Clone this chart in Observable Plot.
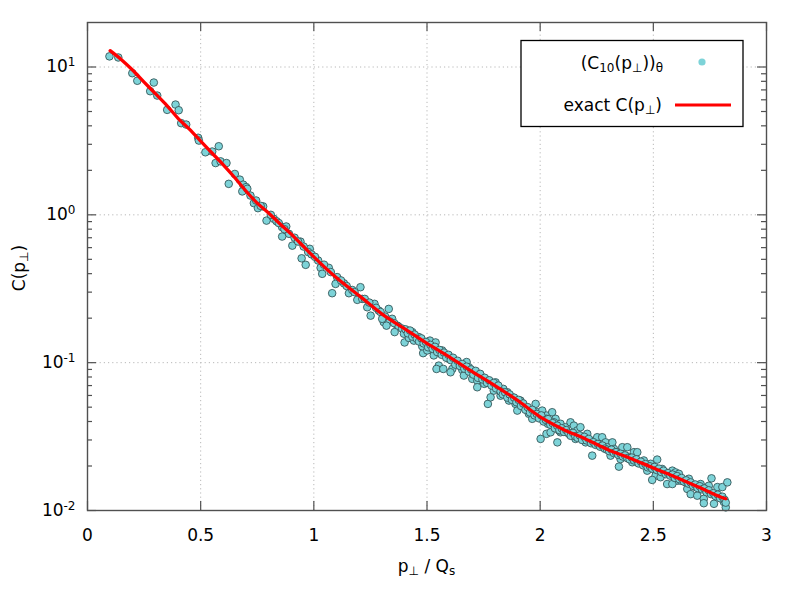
<!DOCTYPE html>
<html><head><meta charset="utf-8">
<script src="https://cdn.jsdelivr.net/npm/d3@7"></script>
<script src="https://cdn.jsdelivr.net/npm/@observablehq/plot@0.6"></script>
<style>body{margin:0;background:#fff} svg{font-family:"DejaVu Sans",sans-serif}</style>
</head><body><div id="chart"></div><script>
// exact C(p_perp) curve
const curveX = [0.1,0.15,0.2,0.25,0.3,0.35,0.4,0.45,0.5,0.55,0.6,0.65,0.7,0.75,0.8,0.85,0.9,0.95,1.0,1.1,1.2,1.3,1.4,1.5,1.6,1.7,1.8,1.9,2.0,2.1,2.2,2.3,2.4,2.5,2.6,2.7,2.8,2.82];
const curveY = [12.9,11.2,9.5,7.9,6.6,5.5,4.5,3.8,3.15,2.62,2.18,1.79,1.45,1.2,1.03,0.87,0.74,0.62,0.52,0.375,0.284,0.214,0.17,0.135,0.109,0.087,0.070,0.0555,0.043,0.0355,0.0305,0.0258,0.0225,0.0194,0.0168,0.0144,0.0123,0.0120];

// (C10(p_perp))_theta samples
const samplePts = [
[0.097,11.8],[0.136,11.6],[0.198,9.08],[0.220,8.07],[0.293,7.85],[0.277,6.86],[0.308,6.41],[0.389,5.57],[0.403,5.10],[0.352,5.13],[0.414,4.17],[0.436,4.08],[0.489,3.32],[0.492,3.18],[0.551,2.68],[0.580,2.91],[0.521,2.65],[0.566,2.24],[0.588,2.30],[0.614,2.24],[0.651,1.89],[0.624,1.62],[0.673,1.73],[0.688,1.60],[0.701,1.54],[0.684,1.44],[0.706,1.50],
[0.735,1.20],[0.753,1.11],[0.776,1.14],[0.791,0.914],[0.823,0.94],[0.835,0.905],[0.860,0.825],[0.878,0.834],[0.890,0.744],[0.860,0.713],[0.905,0.619],[0.941,0.659],[0.982,0.589],[0.946,0.508],[0.964,0.459],[1.019,0.491],[1.030,0.438],[1.037,0.399],[1.066,0.438],[1.081,0.295],[1.103,0.379],[1.096,0.341],[1.133,0.344],[1.155,0.295],[1.206,0.324],[1.192,0.266],[1.214,0.270],[1.236,0.237],[1.268,0.250],[1.251,0.208],[1.287,0.225],[1.331,0.231],[1.346,0.198],[1.309,0.188],[1.369,0.178],
[0.72,1.35],[0.745,1.25],[0.765,1.15],[0.81,1.0],[0.845,0.88],[0.87,0.8],[0.915,0.7],[0.93,0.66],[0.955,0.61],[0.975,0.56],[0.99,0.54],
[1.005,0.52],[1.045,0.46],[1.075,0.41],[1.12,0.36],[1.145,0.33],[1.17,0.31],[1.18,0.30],[1.225,0.27],[1.245,0.255],[1.275,0.235],[1.295,0.22],[1.315,0.205],[1.335,0.19],[1.355,0.185],[1.375,0.175],[1.39,0.17],
[1.302,0.198],[1.321,0.178],[1.357,0.161],[1.398,0.157],[1.401,0.137],[1.435,0.161],[1.420,0.147],[1.464,0.149],[1.442,0.141],[1.483,0.116],[1.479,0.129],[1.513,0.141],[1.508,0.131],[1.538,0.137],[1.530,0.112],[1.501,0.121],[1.567,0.121],[1.552,0.0955],[1.542,0.0907],[1.572,0.0907],[1.597,0.106],[1.612,0.0907],[1.631,0.101],[1.604,0.0861],[1.675,0.101],[1.656,0.0893],[1.663,0.0818],[1.685,0.0931],[1.710,0.0861],[1.700,0.0777],[1.722,0.0756],[1.737,0.0818],[1.722,0.0682],[1.753,0.0719],[1.766,0.0756],[1.769,0.0526],[1.803,0.0736],[1.795,0.0647],[1.781,0.0583],[1.825,0.0598],[1.837,0.0665],[1.855,0.0631],[1.862,0.0554],[1.877,0.0583],[1.891,0.0526],[1.899,0.0474],[1.913,0.0554],[1.928,0.0499],[1.950,0.0451],[1.980,0.0526],[1.965,0.0417],[1.987,0.0462],[2.009,0.0474],[2.028,0.0439],[2.053,0.0462],[2.038,0.0395],[2.068,0.0417],[2.090,0.0375],[2.002,0.0305],[2.028,0.033],[2.046,0.0338],[2.076,0.0289],[2.090,0.0338],
[2.028,0.0417],[2.034,0.0386],[2.061,0.0395],[2.090,0.0386],[2.083,0.0348],[2.112,0.0366],[2.134,0.0395],[2.149,0.0375],[2.127,0.033],[2.164,0.0348],[2.178,0.0366],[2.156,0.0305],[2.186,0.0313],[2.208,0.033],[2.201,0.0289],[2.230,0.0235],[2.223,0.0297],[2.252,0.0313],[2.274,0.0313],[2.259,0.0275],[2.289,0.0289],[2.297,0.0268],[2.319,0.0289],[2.326,0.0261],[2.311,0.0235],[2.348,0.0248],[2.363,0.0268],[2.385,0.0268],[2.355,0.0223],[2.348,0.0198],[2.377,0.0235],[2.392,0.0229],[2.414,0.0248],[2.429,0.0248],[2.407,0.0212],[2.436,0.0212],[2.458,0.0218],[2.488,0.0207],[2.473,0.0186],[2.502,0.0191],[2.517,0.0221],[2.510,0.0172],[2.495,0.0161],[2.539,0.0191],[2.554,0.0181],[2.532,0.0168],[2.561,0.0151],[2.584,0.0186],[2.598,0.0181],[2.613,0.0177],[2.606,0.0159],[2.584,0.0151],[2.621,0.0159],[2.643,0.0155],[2.657,0.0164],[2.650,0.0140],[2.665,0.0129],[2.687,0.0144],[2.709,0.0151],[2.694,0.0126],[2.723,0.0120],[2.738,0.0136],[2.757,0.0165],[2.745,0.0147],[2.768,0.0129],[2.783,0.0144],[2.805,0.0144],[2.827,0.0155],[2.797,0.0123],[2.768,0.0111],[2.812,0.0114],[2.820,0.0105],[2.723,0.0112],
[1.405,0.168],[1.415,0.158],[1.425,0.165],[1.435,0.150],[1.445,0.155],[1.455,0.145],[1.465,0.139],[1.475,0.146],[1.485,0.135],[1.495,0.138],
[1.505,0.127],[1.515,0.132],[1.525,0.124],[1.535,0.128],[1.545,0.118],[1.555,0.122],[1.565,0.113],[1.575,0.117],[1.585,0.108],[1.595,0.113],
[1.605,0.104],[1.615,0.108],[1.625,0.097],[1.635,0.103],[1.645,0.095],[1.655,0.098],[1.665,0.091],[1.675,0.094],[1.685,0.087],[1.695,0.09],
[1.705,0.083],[1.715,0.088],[1.725,0.079],[1.735,0.084],[1.745,0.077],[1.755,0.079],[1.765,0.073],[1.775,0.076],[1.785,0.07],[1.795,0.073],
[1.805,0.067],[1.815,0.07],[1.825,0.064],[1.835,0.061],[1.845,0.063],[1.855,0.058],[1.865,0.061],[1.875,0.056],[1.885,0.058],[1.895,0.054],
[1.905,0.056],[1.915,0.051],[1.925,0.053],[1.935,0.048],[1.945,0.05],[1.955,0.046],[1.965,0.048],[1.975,0.044],[1.985,0.045],[1.995,0.042],
[2.005,0.044],[2.015,0.040],[2.025,0.041],[2.035,0.0415],[2.045,0.038],[2.055,0.039],[2.065,0.036],[2.075,0.0375],[2.085,0.035],[2.095,0.036],
[2.105,0.034],[2.115,0.035],[2.125,0.0335],[2.135,0.032],[2.145,0.0335],[2.155,0.0318],[2.165,0.031],[2.175,0.0322],[2.185,0.030],[2.195,0.0315],
[2.205,0.0298],[2.215,0.0305],[2.225,0.0285],[2.235,0.029],[2.245,0.0278],[2.255,0.0282],[2.265,0.027],[2.275,0.0275],[2.285,0.0262],[2.295,0.0258],
[2.305,0.0252],[2.315,0.0258],[2.325,0.0245],[2.335,0.0248],[2.345,0.0238],[2.355,0.0242],[2.365,0.0232],[2.375,0.0236],[2.385,0.0226],[2.395,0.0222],
[2.405,0.0228],[2.415,0.0218],[2.425,0.0222],[2.435,0.0208],[2.445,0.0214],[2.455,0.0202],[2.465,0.0206],[2.475,0.0196],[2.485,0.0199],[2.495,0.0192],
[2.505,0.0197],[2.515,0.0188],[2.525,0.0192],[2.535,0.0182],[2.545,0.0186],[2.555,0.0176],[2.565,0.0179],[2.575,0.0172],[2.585,0.0175],[2.595,0.0166],
[2.605,0.0171],[2.615,0.0163],[2.625,0.0166],[2.635,0.0157],[2.645,0.016],[2.655,0.0152],[2.665,0.0155],[2.675,0.0147],[2.685,0.015],[2.695,0.0142],
[2.705,0.0146],[2.715,0.0139],[2.725,0.0141],[2.735,0.0133],[2.745,0.0137],[2.755,0.0129],[2.765,0.0131],[2.775,0.0125],[2.785,0.0128],[2.795,0.0121],[2.805,0.0124],[2.815,0.0118],[2.82,0.0113]
];

const xTicks = [0, 0.5, 1, 1.5, 2, 2.5, 3];
const xGrid = [0.5, 1, 1.5, 2, 2.5];
const yTicks = [0.01, 0.1, 1, 10];
const yExp = ["-2", "-1", "0", "1"];
const yGrid = [0.1, 1, 10];
const yMinor = [0.02,0.03,0.04,0.05,0.06,0.07,0.08,0.09,0.2,0.3,0.4,0.5,0.6,0.7,0.8,0.9,2,3,4,5,6,7,8,9];
const legendSeries = ["(C10(p⊥))θ", "exact C(p⊥)"];

const W = 800, H = 600, mL = 87, mR = 34, mT = 22, mB = 90;
const fW = W - mL - mR, fH = H - mT - mB;
const axisColor = "#505050";
const dotFill = "#7dd3d8";

const curve = curveX.map((x, i) => ({x, y: curveY[i]}));
const samples = samplePts.map(([x, y]) => ({x, y}));

const plot = Plot.plot({
  width: W, height: H,
  marginLeft: mL, marginRight: mR, marginTop: mT, marginBottom: mB,
  style: {fontFamily: "DejaVu Sans, sans-serif", fontSize: "17px", background: "white", color: "#000"},
  x: {domain: [0, 3]},
  y: {type: "log", domain: [0.01, 20]},
  marks: [
    Plot.ruleX(xGrid, {x: d => d, stroke: "#b8b8b8", strokeWidth: 1, strokeDasharray: "1.2,3"}),
    Plot.ruleY(yGrid, {y: d => d, stroke: "#b8b8b8", strokeWidth: 1, strokeDasharray: "1.2,3"}),
    Plot.dot(samples, {x: "x", y: "y", r: 3.8, fill: dotFill, stroke: "#37585a", strokeWidth: 0.9}),
    Plot.line(curve, {x: "x", y: "y", stroke: "#ff0000", strokeWidth: 3.3, curve: "monotone-x"}),
    // inward ticks
    Plot.tickX(xTicks, {x: d => d, insetTop: fH - 9, stroke: axisColor, strokeWidth: 1.2}),
    Plot.tickX(xTicks, {x: d => d, insetBottom: fH - 9, stroke: axisColor, strokeWidth: 1.2}),
    Plot.tickY(yTicks, {y: d => d, insetRight: fW - 9, stroke: axisColor, strokeWidth: 1.2}),
    Plot.tickY(yTicks, {y: d => d, insetLeft: fW - 9, stroke: axisColor, strokeWidth: 1.2}),
    Plot.tickY(yMinor, {y: d => d, insetRight: fW - 5, stroke: axisColor, strokeWidth: 1.2}),
    Plot.tickY(yMinor, {y: d => d, insetLeft: fW - 5, stroke: axisColor, strokeWidth: 1.2}),
    Plot.frame({stroke: axisColor, strokeWidth: 1.4}),
    Plot.axisX({ticks: xTicks, tickSize: 0, tickPadding: 18, tickFormat: d => String(d), fontSize: 17, label: null}),
    Plot.axisY({ticks: yTicks, tickSize: 0, tickPadding: 12, tickFormat: d => yExp[yTicks.indexOf(d)], fontSize: 17, label: null})
  ]
});

document.getElementById("chart").appendChild(plot);
const svg = d3.select(plot);

// superscript exponents on y tick labels
svg.selectAll('g[aria-label="y-axis tick label"] text').each(function() {
  const e = this.textContent;
  const t = d3.select(this);
  t.text("10");
  t.append("tspan").attr("dy", "-0.5em").attr("font-size", "12px").text(e);
});

const fx = plot.scale("x"), fy = plot.scale("y");
const frameLeft = fx.range[0], frameRight = fx.range[1];
const frameTop = fy.range[1], frameBottom = fy.range[0];

// helper to write text with subscripts: parts = [[text, isSub], ...]
function richText(g, parts) {
  let sub = false;
  for (const [s, isSub] of parts) {
    const ts = g.append("tspan").text(s);
    if (isSub && !sub) ts.attr("dy", 3);
    if (!isSub && sub) ts.attr("dy", -3);
    if (isSub) ts.attr("font-size", "12px");
    sub = isSub;
  }
}

// axis labels
const xl = svg.append("text").attr("x", (frameLeft + frameRight) / 2).attr("y", frameBottom + 62)
  .attr("text-anchor", "middle").attr("font-size", 17).attr("fill", "#000");
richText(xl, [["p", false], ["⊥", true], [" / Q", false], ["s", true]]);

const yl = svg.append("text").attr("transform", `translate(24.5,${(frameTop + frameBottom) / 2 + 2}) rotate(-90)`)
  .attr("text-anchor", "middle").attr("font-size", 17).attr("fill", "#000");
richText(yl, [["C(p", false], ["⊥", true], [")", false]]);

// legend
const lg = svg.append("g");
const bx = frameRight - 245, by = frameTop + 18.5;
lg.append("rect").attr("x", bx).attr("y", by).attr("width", 222).attr("height", 86)
  .attr("fill", "white").attr("stroke", "#000").attr("stroke-width", 1.3);
const t1 = lg.append("text").attr("x", bx + 142).attr("y", by + 28.5).attr("text-anchor", "end").attr("font-size", 17);
richText(t1, [["(C", false], ["10", true], ["(p", false], ["⊥", true], ["))", false], ["θ", true]]);
lg.append("circle").attr("cx", bx + 181).attr("cy", by + 21.5).attr("r", 3.6).attr("fill", dotFill);
const t2 = lg.append("text").attr("x", bx + 141).attr("y", by + 70.5).attr("text-anchor", "end").attr("font-size", 17);
richText(t2, [["exact C(p", false], ["⊥", true], [")", false]]);
lg.append("line").attr("x1", bx + 154).attr("x2", bx + 210).attr("y1", by + 64.5).attr("y2", by + 64.5)
  .attr("stroke", "#ff0000").attr("stroke-width", 3);
</script></body></html>
